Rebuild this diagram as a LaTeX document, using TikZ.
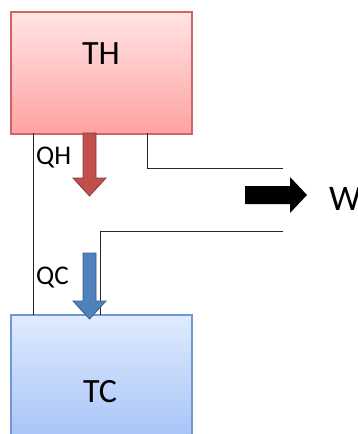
\documentclass[tikz,border=0pt]{standalone}
\usepackage{fontspec}
\setmainfont{Carlito}
\definecolor{thtop}{HTML}{FFE4E4}
\definecolor{thbot}{HTML}{FFA2A2}
\definecolor{thline}{HTML}{D06565}
\definecolor{tctop}{HTML}{DFEBFE}
\definecolor{tcbot}{HTML}{A8C4F7}
\definecolor{tcline}{HTML}{6E97D4}
\definecolor{qhfill}{HTML}{C0504D}
\definecolor{qhline}{HTML}{8C3836}
\definecolor{qcfill}{HTML}{4F81BD}
\definecolor{qcline}{HTML}{385D8A}
\begin{document}
\begin{tikzpicture}[x=1pt,y=-1pt,
  reservoir/.style={draw,line width=1.2pt,rectangle,minimum width=181pt,minimum height=122pt,inner sep=0pt},
  wire/.style={draw=black!85,line width=0.9pt},
  lbl/.style={inner sep=0pt,anchor=west,font=\fontsize{27}{27}\selectfont},
  big/.style={inner sep=0pt,font=\fontsize{34}{34}\selectfont}]
\useasboundingbox (0,0) rectangle (357,434);
\clip (0,0) rectangle (357,434);
% reservoirs
\node[reservoir,draw=thline,top color=thtop,bottom color=thbot] (th) at (101.5,73) {};
\node[reservoir,draw=tcline,top color=tctop,bottom color=tcbot] (tc) at (101.5,376) {};
\node[big] (thtext) at (101,54) {TH};
\node[big] (tctext) at (100,392) {TC};
% wires
\coordinate (a1) at (33,133);
\coordinate (a2) at (33,315);
\coordinate (b1) at (147,133);
\coordinate (b2) at (147,168);
\coordinate (b3) at (283,168);
\coordinate (c1) at (283,231);
\coordinate (c2) at (100.5,231);
\coordinate (c3) at (100.5,315);
\draw[wire] (a1) -- (a2);
\draw[wire] (b1) -- (b2) -- (b3);
\draw[wire] (c1) -- (c2) -- (c3);
% heat arrows
\draw[fill=qhfill,draw=qhline,line width=0.8pt,line join=miter]
  (83,133) -- (96,133) -- (96,178) -- (106,178) -- (89.5,196) -- (73,178) -- (83,178) -- cycle;
\draw[fill=qcfill,draw=qcline,line width=0.8pt,line join=miter]
  (83,253) -- (96,253) -- (96,301) -- (106,301) -- (89.5,319) -- (73,301) -- (83,301) -- cycle;
% work arrow
\fill[black] (245,186) -- (290,186) -- (290,177) -- (307,195) -- (290,213) -- (290,204) -- (245,204) -- cycle;
% labels
\node[lbl] (qh) at (36,158) {QH};
\node[lbl] (qc) at (36,278) {QC};
\node[inner sep=0pt,anchor=west,font=\fontsize{36}{36}\selectfont] (w) at (329,199) {W};
\end{tikzpicture}
\end{document}
